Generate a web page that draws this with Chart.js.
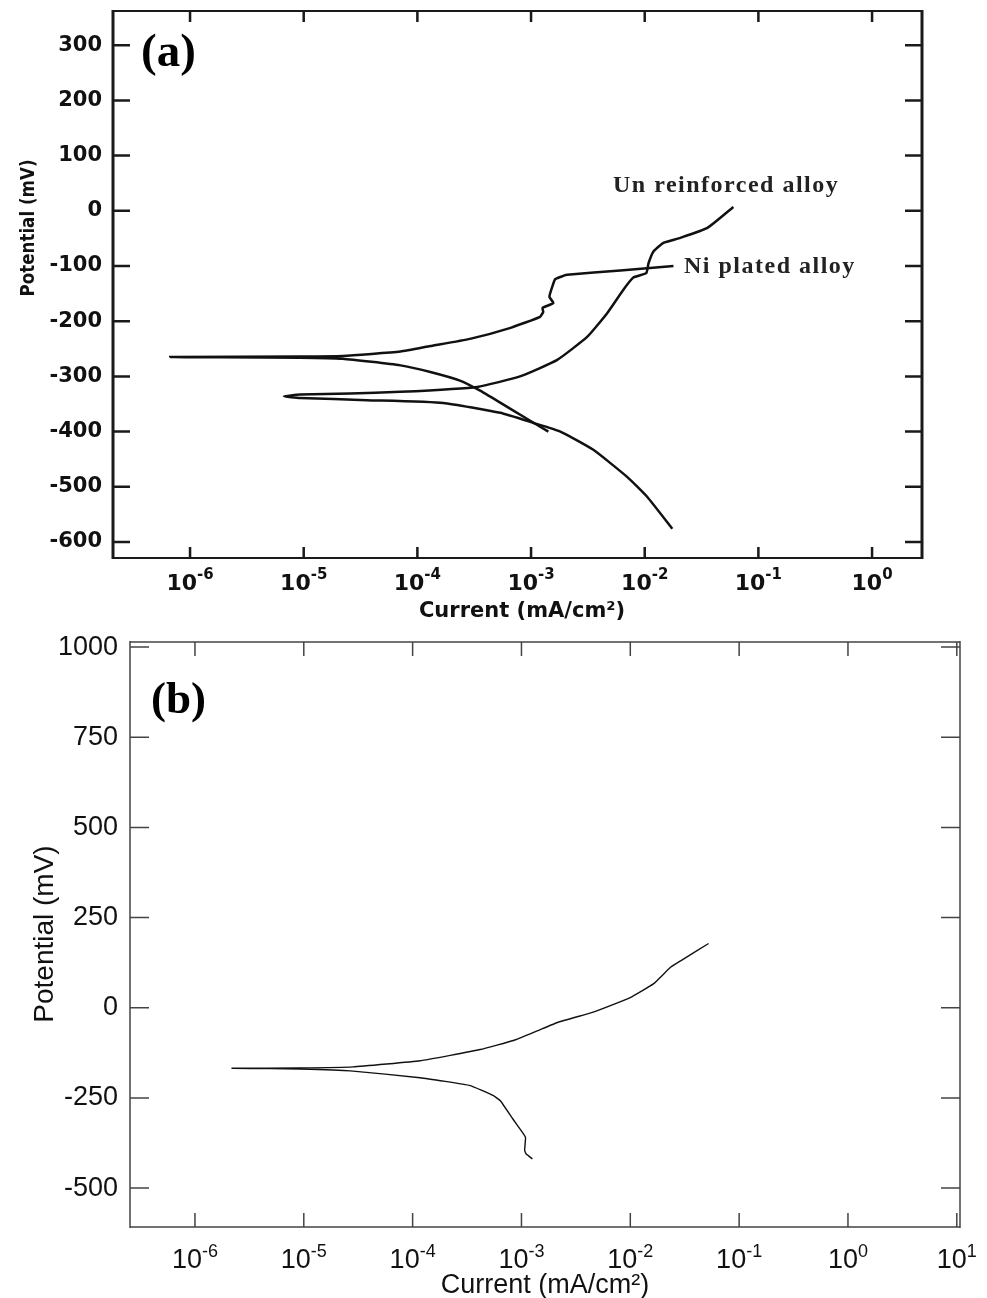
<!DOCTYPE html>
<html>
<head>
<meta charset="utf-8">
<script src="https://cdn.jsdelivr.net/npm/chart.js@4.4.0/dist/chart.umd.min.js"></script>
<style>
html, body { margin: 0; padding: 0; background: #fff; }
#wrap { position: relative; width: 987px; height: 1298px; }
canvas { position: absolute; left: 0; }
#chartA { top: 0; }
#chartB { top: 625px; }
</style>
</head>
<body>
<div id="wrap">
<canvas id="chartA" width="987" height="625"></canvas>
<canvas id="chartB" width="987" height="673"></canvas>
</div>
<script>
// (a) Ni plated alloy: cathodic end -> Ecorr tip -> anodic end
const niCurrent = [1.42e-3, 8.9e-4, 5.4e-4, 3.5e-4, 2.4e-4, 1.3e-4, 7.1e-5, 2.2e-5, 9.3e-6, 6.7e-7,
    9.3e-6, 2.2e-5, 7.1e-5, 1.3e-4, 2.9e-4, 6.6e-4, 1.2e-3, 1.28e-3, 1.26e-3, 1.57e-3,
    1.45e-3, 1.54e-3, 1.63e-3, 1.92e-3, 2.08e-3, 6.1e-3, 1.79e-2];
const niPotential = [-400, -375, -348, -325, -308, -292, -280, -268, -266, -265,
    -264, -263, -255, -245, -232, -212, -192, -183, -176, -167,
    -156, -137, -124, -118, -116, -108, -100];

// (a) Un reinforced alloy
const unCurrent = [1.75e-2, 1.05e-2, 7.0e-3, 3.53e-3, 1.81e-3, 1.04e-3, 5.36e-4, 1.69e-4, 3.6e-5, 9.3e-6, 6.7e-6,
    9.3e-6, 2.56e-5, 7.06e-5, 3.36e-4, 8.0e-4, 1.70e-3, 3.13e-3, 4.69e-3, 6.49e-3, 7.94e-3,
    1.03e-2, 1.08e-2, 1.19e-2, 1.46e-2, 2.06e-2, 3.56e-2, 6.03e-2];
const unPotential = [-576, -518, -482, -433, -400, -384, -366, -348, -343, -339, -336,
    -333, -331, -328, -319, -300, -270, -228, -185, -143, -121,
    -113, -95, -74, -58, -49, -31, 7];

// (b) single curve
const bCurrent = [1.26e-3, 1.10e-3, 1.07e-3, 1.09e-3, 1.04e-3, 8.4e-4, 6.4e-4, 5.52e-4, 3.39e-4, 1.17e-4, 2.67e-5, 9.2e-6, 4.9e-6, 2.19e-6,
    9.2e-6, 2.84e-5, 1.17e-4, 4.19e-4, 8.43e-4, 1.40e-3, 2.14e-3, 4.04e-3, 4.99e-3, 1.00e-2, 1.63e-2, 2.34e-2, 2.90e-2, 5.24e-2];
const bPotential = [-419, -405, -395, -360, -349, -310, -258, -244, -216, -194, -175, -170, -169, -168,
    -167, -164, -147, -116, -91, -64, -41, -17, -8, 28, 66, 112, 130, 178];

const decadesA = [1e-6, 1e-5, 1e-4, 1e-3, 1e-2, 1e-1, 1];
const decadesB = [1e-6, 1e-5, 1e-4, 1e-3, 1e-2, 1e-1, 1, 10];
const potentialTicksA = [300, 200, 100, 0, -100, -200, -300, -400, -500, -600];
const potentialTicksB = [1000, 750, 500, 250, 0, -250, -500];

function toPoints(xs, ys) {
    return xs.map((x, i) => ({ x: x, y: ys[i] }));
}

// frame, inward ticks, superscript tick labels and free text
function framePlugin(st) {
    return {
        id: 'frame',
        afterDraw(chart) {
            const ctx = chart.ctx;
            const a = chart.chartArea;
            const xs = chart.scales.x, ys = chart.scales.y;
            ctx.save();
            ctx.strokeStyle = st.color;
            ctx.lineWidth = st.tickWidth;
            ctx.beginPath();
            st.xTicks.forEach(v => {
                const px = xs.getPixelForValue(v);
                ctx.moveTo(px, a.bottom); ctx.lineTo(px, a.bottom - st.xTickLen);
                ctx.moveTo(px, a.top); ctx.lineTo(px, a.top + st.xTickLen);
            });
            st.yTicks.forEach(v => {
                const py = ys.getPixelForValue(v);
                ctx.moveTo(a.left, py); ctx.lineTo(a.left + st.yTickLen, py);
                ctx.moveTo(a.right, py); ctx.lineTo(a.right - st.yTickLen, py);
            });
            ctx.stroke();

            ctx.lineWidth = st.sideWidth;
            ctx.beginPath();
            ctx.moveTo(a.left, a.top - 1); ctx.lineTo(a.left, a.bottom + 1);
            ctx.moveTo(a.right, a.top - 1); ctx.lineTo(a.right, a.bottom + 1);
            ctx.stroke();
            ctx.lineWidth = st.hWidth;
            ctx.beginPath();
            ctx.moveTo(a.left, a.top); ctx.lineTo(a.right, a.top);
            ctx.moveTo(a.left, a.bottom); ctx.lineTo(a.right, a.bottom);
            ctx.stroke();

            // x tick labels 10^n
            ctx.fillStyle = st.textColor;
            ctx.textBaseline = 'alphabetic';
            ctx.textAlign = 'left';
            st.xTicks.forEach(v => {
                const exp = String(Math.round(Math.log10(v)));
                const px = xs.getPixelForValue(v);
                ctx.font = st.baseFont;
                const w1 = ctx.measureText('10').width;
                ctx.font = st.expFont;
                const w2 = ctx.measureText(exp).width;
                const x0 = px - (w1 + w2) / 2;
                ctx.font = st.baseFont;
                ctx.fillText('10', x0, st.labelBase);
                ctx.font = st.expFont;
                ctx.fillText(exp, x0 + w1, st.expBase);
            });

            // axis titles
            ctx.font = st.xTitleFont;
            ctx.textAlign = 'center';
            ctx.fillText('Current (mA/cm\u00b2)', st.xTitle[0], st.xTitle[1]);
            ctx.save();
            ctx.translate(st.yTitle[0], st.yTitle[1]);
            ctx.rotate(-Math.PI / 2);
            ctx.scale(st.yTitleSqueeze || 1, 1);
            ctx.font = st.yTitleFont;
            ctx.textBaseline = 'middle';
            ctx.fillText('Potential (mV)', 0, 0);
            ctx.restore();

            // panel label and notes
            ctx.textAlign = 'left';
            ctx.textBaseline = 'alphabetic';
            st.notes.forEach(n => {
                ctx.font = n.font;
                ctx.fillStyle = n.color || st.textColor;
                if ('letterSpacing' in ctx) ctx.letterSpacing = (n.spacing || 0) + 'px';
                ctx.fillText(n.text, n.x, n.y);
            });
            if ('letterSpacing' in ctx) ctx.letterSpacing = '0px';
            ctx.restore();
        }
    };
}

function makeChart(id, datasets, sc, st) {
    return new Chart(document.getElementById(id), {
        type: 'scatter',
        data: { datasets: datasets },
        options: {
            responsive: false,
            animation: false,
            devicePixelRatio: 1,
            events: [],
            layout: { padding: sc.padding },
            plugins: { legend: { display: false }, tooltip: { enabled: false } },
            scales: {
                x: {
                    type: 'logarithmic',
                    min: sc.xMin, max: sc.xMax,
                    afterBuildTicks: s => { s.ticks = st.xTicks.map(v => ({ value: v })); },
                    afterFit: s => { s.height = sc.xHeight; s.paddingLeft = 0; s.paddingRight = 0; },
                    grid: { display: false, drawTicks: false },
                    border: { display: false },
                    ticks: { display: false }
                },
                y: {
                    min: sc.yMin, max: sc.yMax,
                    afterBuildTicks: s => { s.ticks = st.yTicks.map(v => ({ value: v })); },
                    afterFit: s => { s.width = sc.yWidth; s.paddingTop = 0; s.paddingBottom = 0; },
                    grid: { display: false, drawTicks: false },
                    border: { display: false },
                    ticks: {
                        color: st.textColor,
                        font: sc.yTickFont,
                        padding: sc.yTickPad,
                        callback: v => String(v)
                    }
                }
            }
        },
        plugins: [framePlugin(st)]
    });
}

const lineA = { showLine: true, pointRadius: 0, borderColor: '#111', borderWidth: 2.5, tension: 0.15, fill: false };

makeChart('chartA', [
    Object.assign({ label: 'Ni plated alloy', data: toPoints(niCurrent, niPotential) }, lineA),
    Object.assign({ label: 'Un reinforced alloy', data: toPoints(unCurrent, unPotential) }, lineA)
], {
    padding: { left: 0, top: 11, right: 65, bottom: 0 },
    xMin: 2.1e-7, xMax: 2.75, xHeight: 67,
    yMin: -629, yMax: 362, yWidth: 113,
    yTickFont: { family: 'DejaVu Sans', size: 21, weight: 'bold' },
    yTickPad: 11
}, {
    color: '#1a1a1a', textColor: '#111',
    tickWidth: 2.5, sideWidth: 3, hWidth: 2,
    xTickLen: 11, yTickLen: 17,
    xTicks: decadesA, yTicks: potentialTicksA,
    baseFont: 'bold 22px "DejaVu Sans"', expFont: 'bold 15px "DejaVu Sans"',
    labelBase: 590, expBase: 579,
    xTitleFont: 'bold 21px "DejaVu Sans"', xTitle: [522, 617],
    yTitleFont: 'bold 19px "DejaVu Sans"', yTitle: [29, 228], yTitleSqueeze: 0.88,
    notes: [
        { text: '(a)', x: 141, y: 66, font: 'bold 47px "Liberation Serif"', color: '#000' },
        { text: 'Un reinforced alloy', x: 613, y: 192, font: 'bold 24px "Liberation Serif"', spacing: 1.5, color: '#222' },
        { text: 'Ni plated alloy', x: 684, y: 273, font: 'bold 24px "Liberation Serif"', spacing: 1.5, color: '#222' }
    ]
});

makeChart('chartB', [
    { label: 'Potential', data: toPoints(bCurrent, bPotential), showLine: true, pointRadius: 0,
      borderColor: '#111', borderWidth: 1.4, tension: 0.1, fill: false }
], {
    padding: { left: 0, top: 17, right: 27, bottom: 0 },
    xMin: 2.53e-7, xMax: 10.7, xHeight: 71,
    yMin: -608, yMax: 1014, yWidth: 130,
    yTickFont: { family: 'Liberation Sans', size: 27 },
    yTickPad: 12
}, {
    color: '#444', textColor: '#111',
    tickWidth: 1.5, sideWidth: 1.5, hWidth: 1.5,
    xTickLen: 14, yTickLen: 19,
    xTicks: decadesB, yTicks: potentialTicksB,
    baseFont: '27px "Liberation Sans"', expFont: '18px "Liberation Sans"',
    labelBase: 643, expBase: 632,
    xTitleFont: '27px "Liberation Sans"', xTitle: [545, 668],
    yTitleFont: '28px "Liberation Sans"', yTitle: [45, 309],
    notes: [
        { text: '(b)', x: 151, y: 88, font: 'bold 45px "Liberation Serif"', color: '#000' }
    ]
});
</script>
</body>
</html>
